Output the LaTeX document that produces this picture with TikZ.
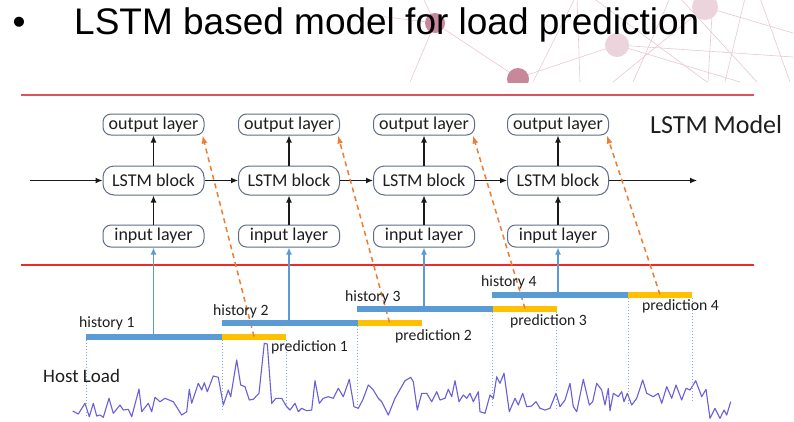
\documentclass[tikz,border=0pt]{standalone}
\usepackage{fontspec}
\setmainfont{Carlito}
\newfontfamily\arialf{Liberation Sans}
\usetikzlibrary{arrows.meta,calc}
\definecolor{barblue}{RGB}{91,155,213}
\definecolor{baryel}{RGB}{255,192,0}
\definecolor{orangeD}{RGB}{237,125,49}
\definecolor{curveC}{RGB}{105,95,215}
\definecolor{boxC}{RGB}{95,110,135}
\definecolor{redA}{RGB}{220,80,95}
\definecolor{redB}{RGB}{240,40,40}
\definecolor{txt}{RGB}{30,30,30}
\definecolor{dotC}{RGB}{130,170,215}
\definecolor{pinkL}{RGB}{232,200,212}
\definecolor{pinkM}{RGB}{200,135,155}
\definecolor{pinkS}{RGB}{236,212,220}
\tikzset{
 layerbox/.style={draw=boxC, line width=1pt, rounded corners=8pt, minimum width=101pt, inner sep=0pt, text=txt, font=\fontsize{18}{20}\selectfont},
 outbox/.style={layerbox, minimum height=21pt},
 lstmbox/.style={layerbox, minimum height=29pt, rounded corners=11pt},
 inbox/.style={layerbox, minimum height=22pt},
 blk/.style={-{Latex[length=7pt,width=6pt]}, line width=1.2pt, draw=black!90},
 upblue/.style={-{Latex[length=7pt,width=6pt]}, line width=1.3pt, draw=barblue},
 predarrow/.style={-{Latex[length=8pt,width=6pt]}, dash pattern=on 5pt off 4pt, line width=1.5pt, draw=orangeD},
 hbar/.style={line width=6pt, draw=barblue},
 pbar/.style={line width=6pt, draw=baryel},
 vdot/.style={draw=dotC, dotted, line width=1pt},
 lbl/.style={anchor=base west, inner sep=0pt, text=txt, font=\fontsize{15.7}{17}\selectfont},
 decoline/.style={draw=pinkL, line width=0.6pt},
}
\begin{document}
\begin{tikzpicture}[x=1pt,y=-1pt]
\useasboundingbox (0,0) rectangle (794,421);
\fill[white] (0,0) rectangle (794,421);
% decorative background
\begin{scope}
\clip (370,0) rectangle (794,82);
\draw[decoline] (423,-2) -- (435,23) -- (518,78);
\draw[decoline] (370,15) -- (435,23);
\draw[decoline] (410,82) -- (435,23);
\draw[decoline] (533,82) -- (575,-2);
\draw[decoline] (577,-2) -- (580,82);
\draw[decoline] (518,78) -- (617,45) -- (793,57);
\draw[decoline] (593,-2) -- (707,82);
\draw[decoline] (705,7) -- (793,33);
\draw[decoline] (680,-2) -- (757,82);
\draw[decoline] (613,82) -- (705,7);
\draw[decoline] (633,82) -- (670,-2);
\draw[decoline] (713,-2) -- (708,82);
\draw[decoline] (725,82) -- (745,-2);
\draw[decoline] (760,-2) -- (790,82);
\draw[decoline] (617,45) -- (740,82);
\fill[pinkM] (435,23) circle (10);
\fill[pinkM] (518,79) circle (11);
\fill[pinkS] (617,45) circle (12);
\fill[pinkS] (705,7) circle (13);
\end{scope}
% title
\node[anchor=base, inner sep=0pt, font=\arialf\fontsize{37}{42}\selectfont] (bullet) at (19,34) {•};
\node[anchor=base west, inner sep=0pt, font=\arialf\fontsize{37}{42}\selectfont] (title) at (74,34) {LSTM based model for load prediction};
% red separators
\draw[draw=redA, line width=1.4pt] (21,95) -- (754,95);
\draw[draw=redB, line width=1.3pt] (21,265) -- (754,265);
% LSTM model
\foreach \i/\cx in {1/153.5,2/289,3/424,4/558}{
 \node[outbox] (out\i) at (\cx,124.5) {output layer};
 \node[lstmbox] (lstm\i) at (\cx,180.5) {LSTM block};
 \node[inbox] (in\i) at (\cx,236) {input layer};
 \draw[blk] (lstm\i) -- (out\i);
 \draw[blk] (in\i) -- (lstm\i);
}
\coordinate (lstart) at (30,180.5);
\coordinate (lend) at (697,180.5);
\draw[blk] (lstart) -- (lstm1);
\draw[blk] (lstm1) -- (lstm2);
\draw[blk] (lstm2) -- (lstm3);
\draw[blk] (lstm3) -- (lstm4);
\draw[blk] (lstm4) -- (lend);
\node[anchor=base west, inner sep=0pt, text=txt, font=\fontsize{26}{28}\selectfont] (modellbl) at (650,133.3) {LSTM Model};
% host load curve
\draw[curveC, line width=1.1pt, line join=round] (72.7,411) -- (78.3,414) -- (85,403.3) -- (89.3,416.7) -- (93.3,403.3) -- (96.7,416) -- (100,415) -- (103.3,417.3) -- (109,398.3) -- (113.3,413.3) -- (120,405) -- (123.3,410) -- (128.3,409.3) -- (131.7,416.7) -- (139,389) -- (141.7,411.7) -- (148.3,403.3) -- (151.7,411.7) -- (155,397.3) -- (160,401.7) -- (165,398.3) -- (173.3,401.7) -- (181.7,415) -- (186.7,411.7) -- (189.3,389.3) -- (191.7,403.3) -- (198.3,383.3) -- (201.7,390) -- (204.3,382.7) -- (207.3,391.7) -- (213.3,376) -- (218.3,377.3) -- (223.3,405) -- (228.3,390) -- (230.7,396.7) -- (236.7,360) -- (240.7,385) -- (245,386.7) -- (249.3,400) -- (253.3,399.3) -- (259,393.3) -- (264.3,343.3) -- (267.3,344) -- (271.7,403.3) -- (276,398.3) -- (281.7,398.3) -- (286.7,406.7) -- (290,410) -- (295,403.3) -- (298.3,411.7) -- (301.7,408.3) -- (306.7,410.7) -- (311.7,410) -- (315,380.7) -- (319.3,403.3) -- (323.3,398.3) -- (328.3,396.7) -- (333.3,398.3) -- (338.3,388.3) -- (343.3,396.7) -- (349.3,379.3) -- (354,406.7) -- (358.3,408.3) -- (362.7,400) -- (368.3,385) -- (373.3,390) -- (378.3,398.3) -- (381.7,401.7) -- (388.3,415) -- (395,398.3) -- (405,380.7) -- (410.7,377.3) -- (413.3,381.7) -- (417.3,410) -- (421.7,393.3) -- (426.7,393.3) -- (431.7,401.7) -- (436.7,391.7) -- (440,400) -- (445,398.3) -- (448.3,389.3) -- (451.7,396.7) -- (455,380.7) -- (459,401.7) -- (463.3,395) -- (466.7,398.3) -- (470,393.3) -- (473.3,401.7) -- (478.3,391.7) -- (480,411.7) -- (485,413.3) -- (490,395) -- (493.3,398.3) -- (496.7,376.7) -- (500,383.3) -- (504,373.3) -- (509.3,411.7) -- (515,398.3) -- (518.3,405) -- (522.7,393.3) -- (526.7,406.7) -- (531.7,406) -- (536,401.7) -- (540,408.3) -- (545,410) -- (550,408.3) -- (556,393.3) -- (560,406.7) -- (565,400) -- (570,383.3) -- (573.3,406.7) -- (576.7,411.7) -- (583.3,379.3) -- (589.3,405) -- (592.7,401.7) -- (596.7,383.3) -- (601.7,390) -- (605,405) -- (608.3,388.3) -- (610,410.7) -- (613.3,393.3) -- (618.3,396.7) -- (621.7,391.7) -- (624,401.7) -- (627.3,393.3) -- (631.7,405) -- (636.7,398.3) -- (642.7,380) -- (646.7,393.3) -- (653.3,396.7) -- (658.3,393.3) -- (661.7,403.3) -- (666.7,386.7) -- (671.7,398.3) -- (676,385) -- (681.7,400) -- (686,388.3) -- (690,390) -- (695.7,380.7) -- (701.7,396.7) -- (706,389.3) -- (710,418.3) -- (715,408.3) -- (720,418.3) -- (724,410) -- (726.7,415) -- (730.7,401.7);
\node[anchor=base west, inner sep=0pt, text=txt, font=\fontsize{19}{21}\selectfont] (hostload) at (43,382.7) {Host Load};
% bars
\foreach \i/\xs/\yb in {1/86/336.5,2/221.5/322.5,3/357/308.5,4/492/294.5}{
 \coordinate (hs\i) at (\xs,\yb);
 \coordinate (he\i) at (\xs+136,\yb);
 \coordinate (pe\i) at (\xs+200,\yb);
 \coordinate (pm\i) at (\xs+168,\yb);
}
% dotted guides
\draw[vdot] (86,339.5) -- (86,417);
\draw[vdot] (222,339.5) -- (222,410);
\draw[vdot] (286,339.5) -- (286,404);
\draw[vdot] (357,325.5) -- (357,405);
\draw[vdot] (492,311.5) -- (492,405);
\draw[vdot] (556,311.5) -- (556,410);
\draw[vdot] (628,297.5) -- (628,405);
\draw[vdot] (692,297.5) -- (692,400);
\foreach \i in {1,2,3,4}{
 \draw[hbar] (hs\i) -- (he\i);
 \draw[pbar] (he\i) -- (pe\i);
 \draw[upblue] (in\i.south |- hs\i) -- (in\i.south);
 \draw[predarrow] (pm\i) -- ([xshift=-2pt]out\i.south east);
}
% labels
\node[lbl] (hl1) at (79,327.3) {history 1};
\node[lbl] (hl2) at (213,315) {history 2};
\node[lbl] (hl3) at (345,301.7) {history 3};
\node[lbl] (hl4) at (481,286) {history 4};
\node[lbl] (pl1) at (271,351.7) {prediction 1};
\node[lbl] (pl2) at (395,340) {prediction 2};
\node[lbl] (pl3) at (510,325) {prediction 3};
\node[lbl] (pl4) at (642,310.7) {prediction 4};
\end{tikzpicture}
\end{document}
